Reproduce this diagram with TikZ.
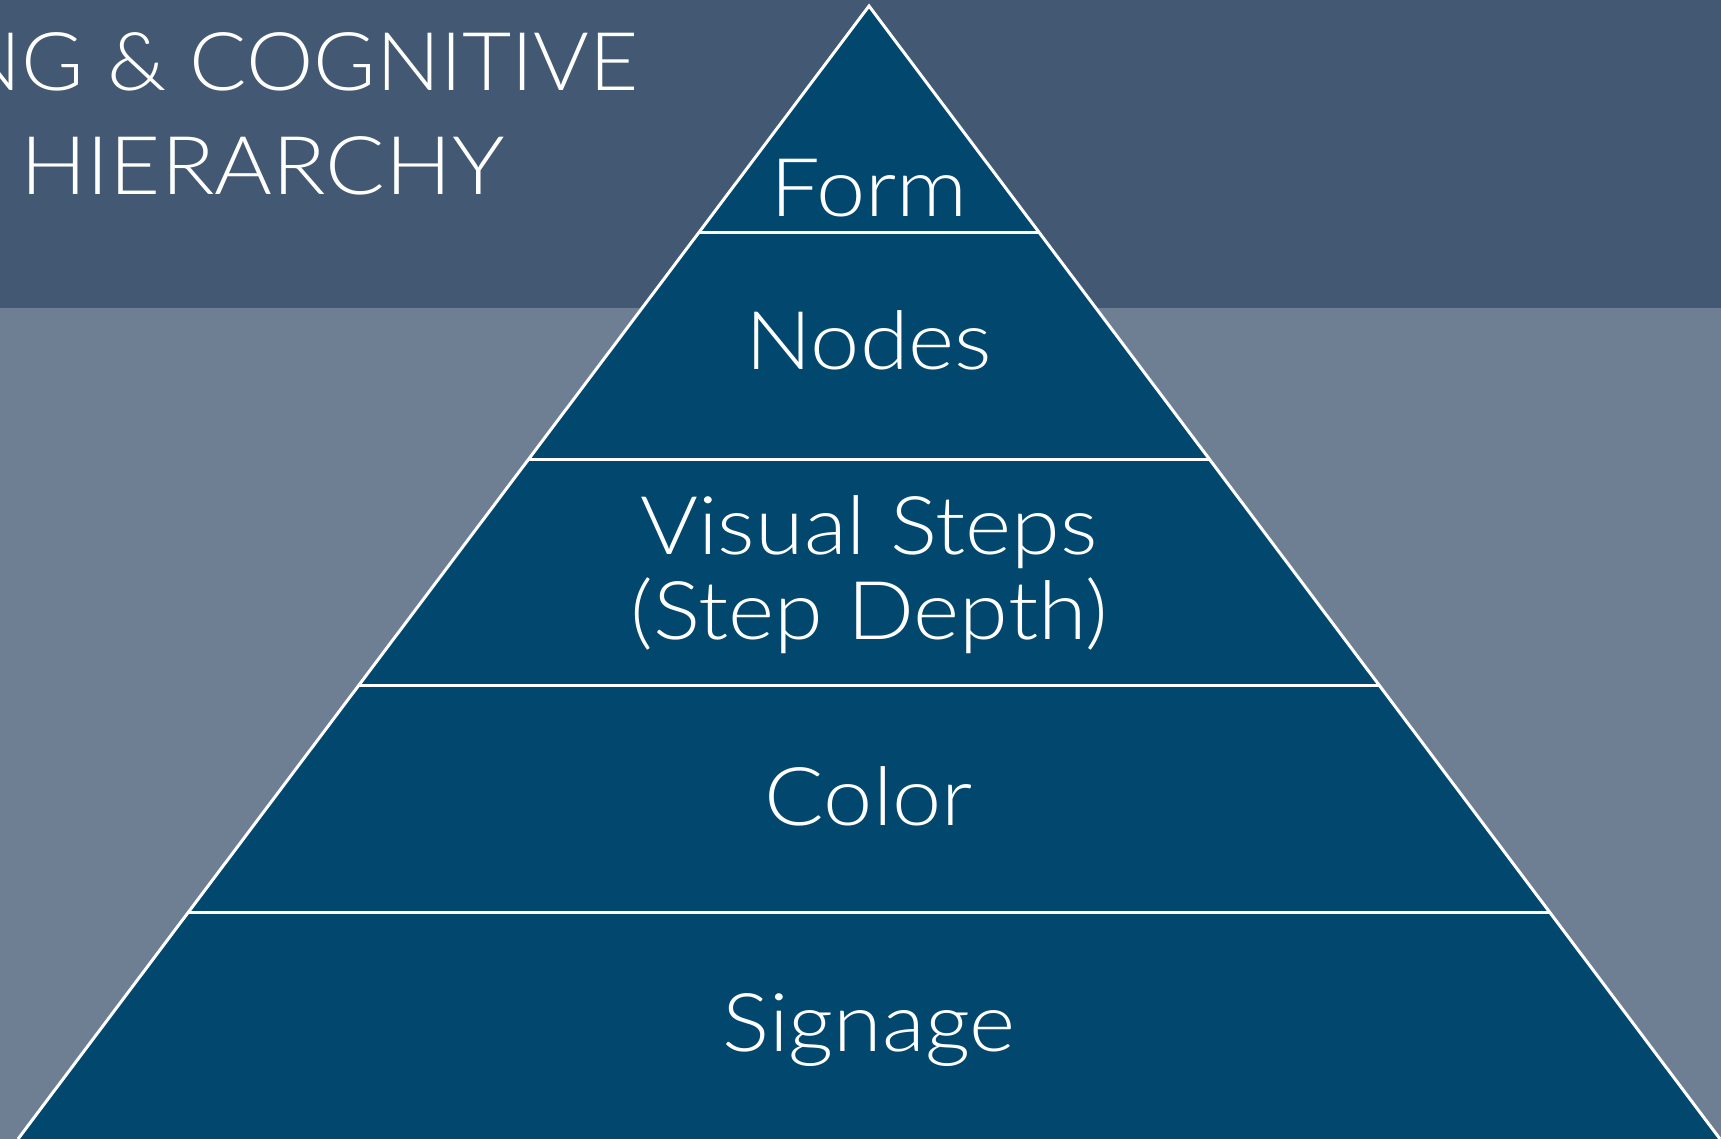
\documentclass[tikz,border=0pt]{standalone}
\usepackage{fontspec}
\setmainfont{Lato Light}[FakeStretch=1.09]
\newfontfamily\titleonefont{Lato Light}[FakeStretch=1.05]
\definecolor{topband}{HTML}{435873}
\definecolor{lowbg}{HTML}{6E7F94}
\definecolor{pyr}{HTML}{02486E}
\tikzset{
  lbl/.style={text=white, anchor=base, inner sep=0pt, font=\fontsize{81}{85}\selectfont},
  ttl/.style={text=white, inner sep=0pt, font=\fontsize{81}{85}\selectfont},
  sep/.style={draw=white, line width=3pt}
}
\begin{document}
\begin{tikzpicture}[x=1pt,y=-1pt]
\useasboundingbox (0,0) rectangle (1721,1139);
\clip (0,0) rectangle (1721,1139);
\fill[topband] (0,0) rectangle (1721,308);
\fill[lowbg] (0,308) rectangle (1721,1139);
% title
\node[ttl, anchor=base east] (t1) at (639,91) {\titleonefont NG \& COGNITIVE};
\node[ttl, anchor=base west] (t2) at (20,195) {HIERARCHY};
% pyramid corners
\coordinate (apex) at (869,6);
\coordinate (bl) at (18,1139);
\coordinate (br) at (1720,1139);
\coordinate (l1) at (698.8,232.6); \coordinate (r1) at (1039.2,232.6);
\coordinate (l2) at (528.6,459.2); \coordinate (r2) at (1209.4,459.2);
\coordinate (l3) at (358.4,685.8); \coordinate (r3) at (1379.6,685.8);
\coordinate (l4) at (188.2,912.4); \coordinate (r4) at (1549.8,912.4);
\fill[pyr] (apex) -- (br) -- (bl) -- cycle;
\draw[sep, line join=miter] (bl) -- (apex) -- (br);
\draw[sep] (l1) -- (r1);
\draw[sep] (l2) -- (r2);
\draw[sep] (l3) -- (r3);
\draw[sep] (l4) -- (r4);
% labels
\node[lbl] (form) at (869,217) {Form};
\node[lbl] (nodes) at (869,370) {Nodes};
\node[lbl] (vs1) at (869,554) {Visual Steps};
\node[lbl] (vs2) at (869,639) {(Step Depth)};
\node[lbl] (color) at (869,825) {Color};
\node[lbl] (sign) at (869,1051) {Signage};
\end{tikzpicture}
\end{document}
